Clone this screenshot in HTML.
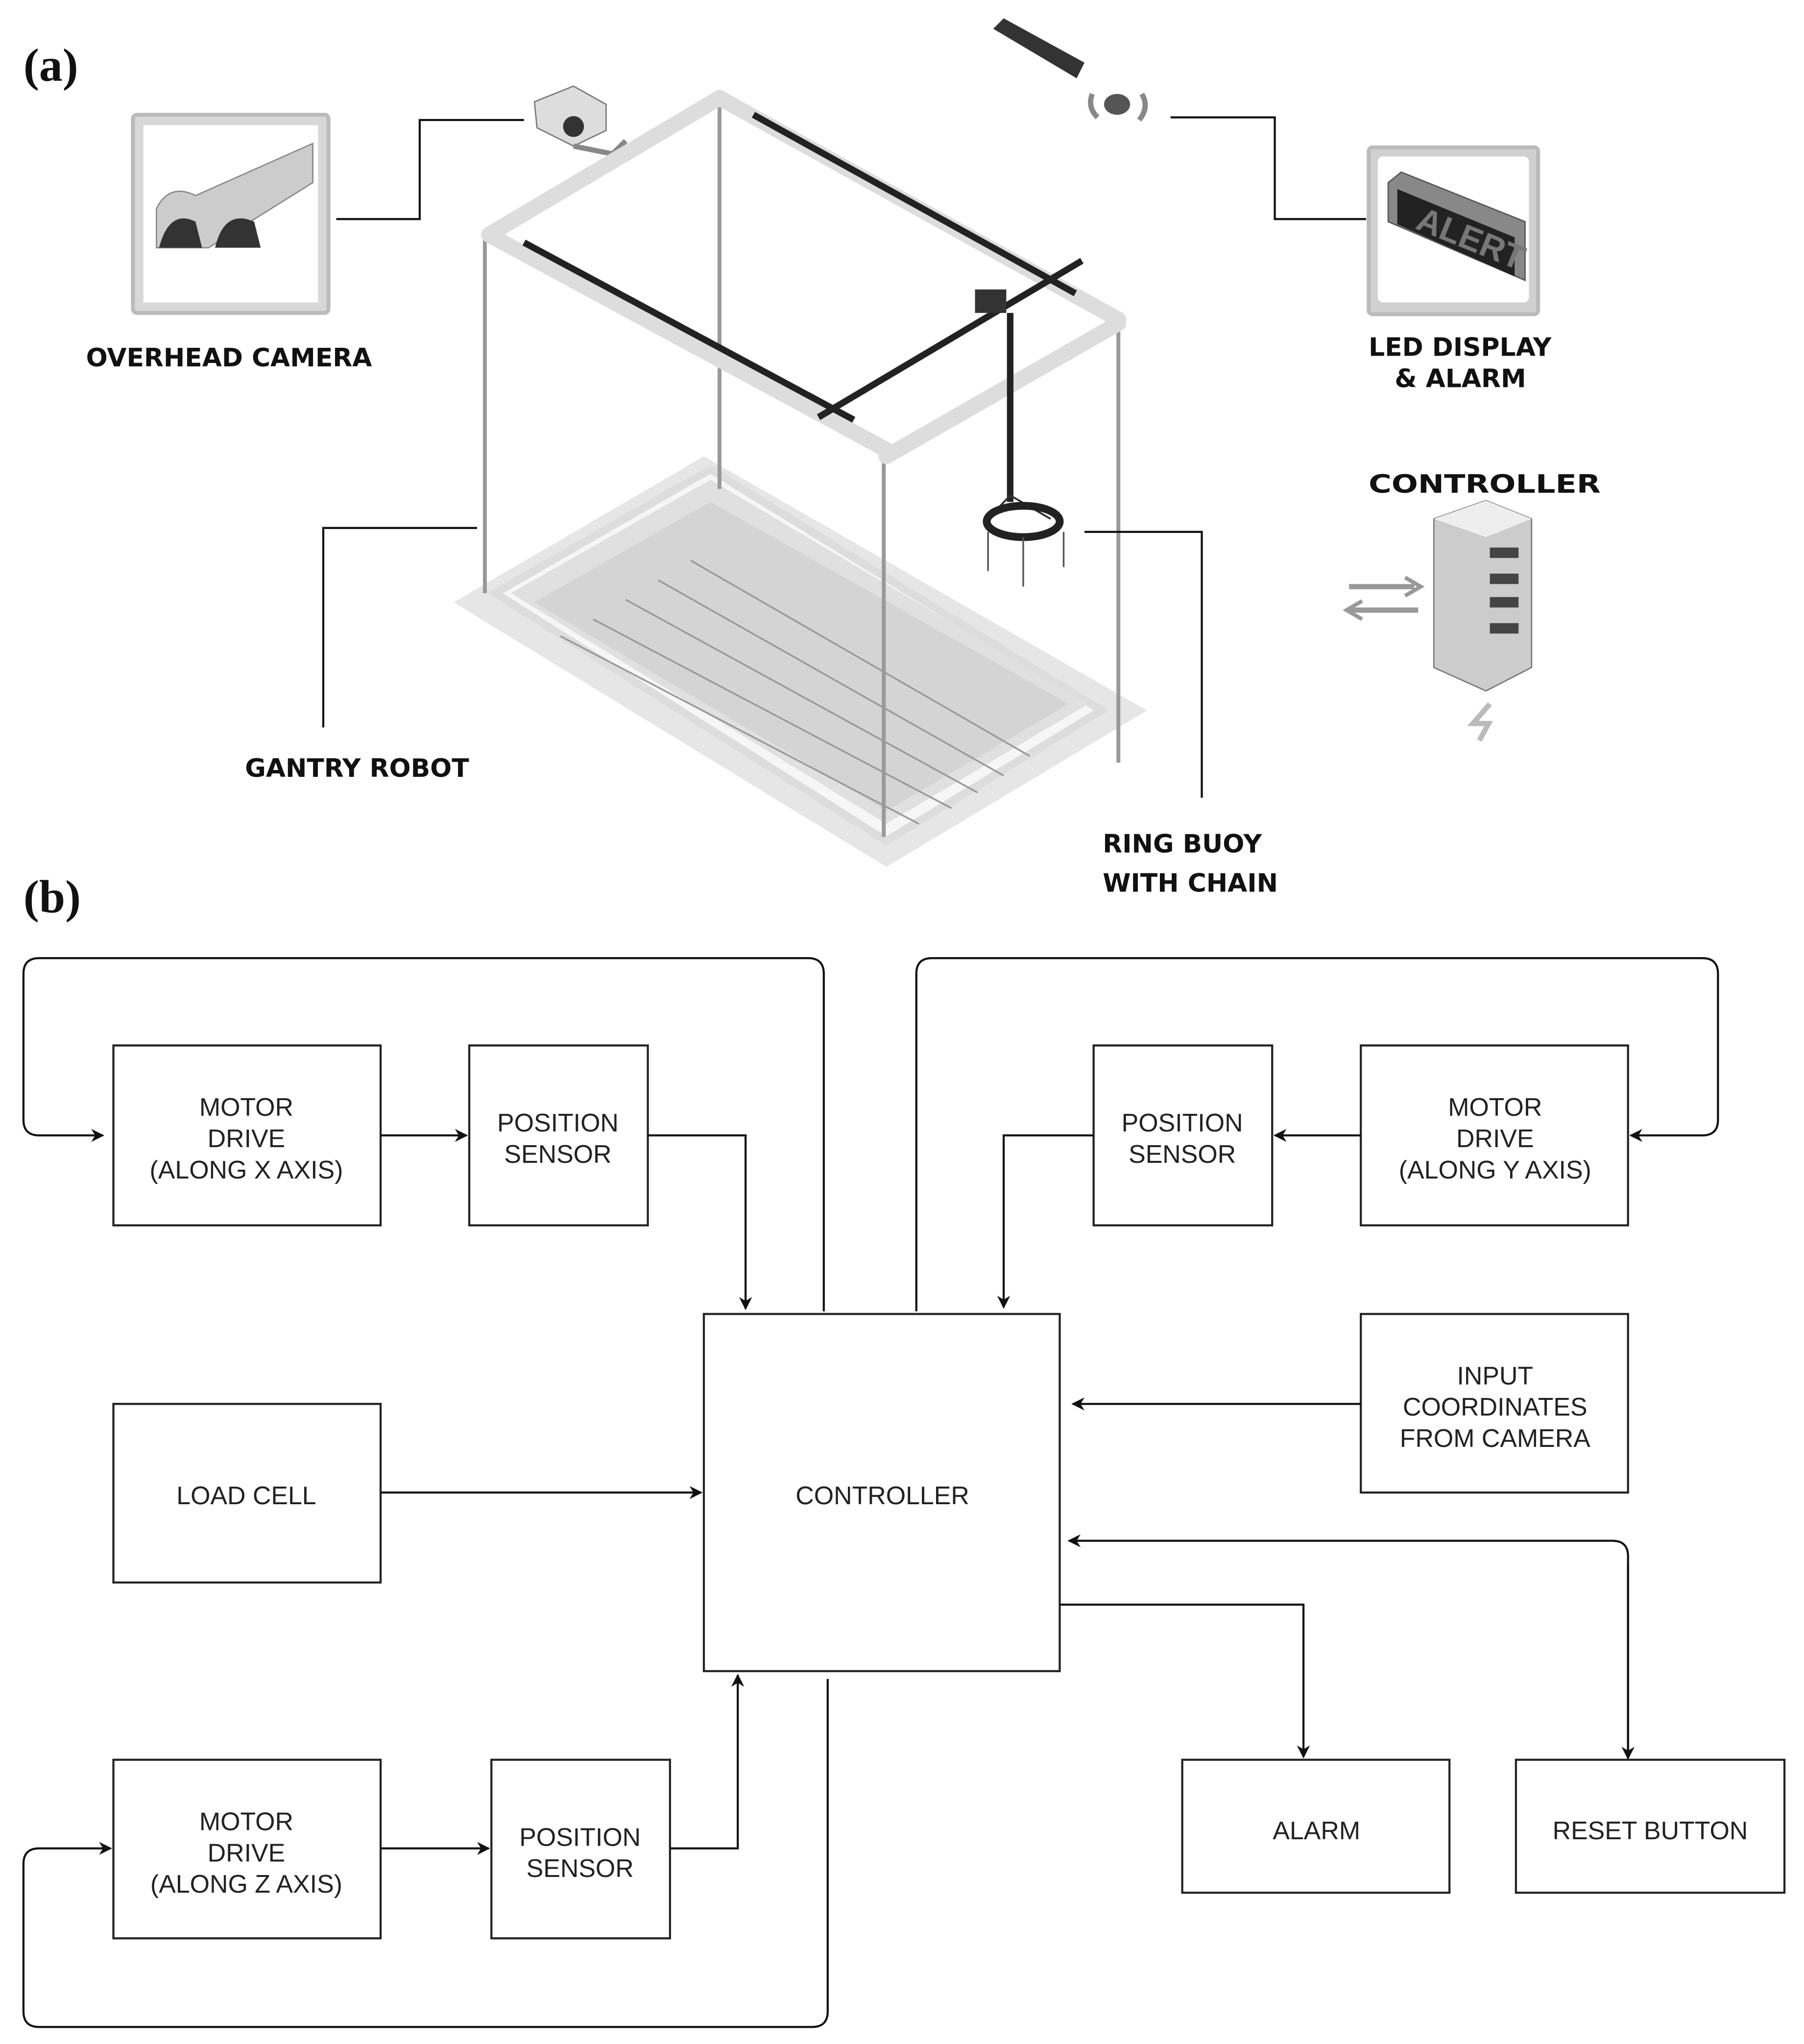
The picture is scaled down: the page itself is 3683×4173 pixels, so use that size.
<!DOCTYPE html>
<html><head><meta charset="utf-8"><style>
html,body{margin:0;padding:0;background:#fff}
svg{display:block}
.l{font-family:"DejaVu Sans","Liberation Sans",sans-serif;font-weight:bold;font-size:19.5px;fill:#111}
.t{font-family:"Liberation Sans",sans-serif;font-size:19.5px;fill:#222;text-anchor:middle}
.b{fill:#fff;stroke:#222;stroke-width:1.6}
.c{fill:none;stroke:#111;stroke-width:1.6}
</style></head><body>
<svg width="3683" height="4173" viewBox="0 0 1384 1568" xmlns="http://www.w3.org/2000/svg">
<defs><marker id="a" markerWidth="10" markerHeight="10" refX="9" refY="5" orient="auto" markerUnits="userSpaceOnUse"><path d="M0,0 L10,5 L0,10 L3,5z" fill="#111"/></marker></defs>
<rect width="1384" height="1568" fill="#fff"/>
<text x="18" y="62" font-family="Liberation Serif,serif" font-weight="bold" font-size="36" fill="#111">(a)</text>
<text x="18" y="700" font-family="Liberation Serif,serif" font-weight="bold" font-size="36" fill="#111">(b)</text>

<rect x="102" y="88" width="150" height="152" fill="#d8d8d8" stroke="#bbb" stroke-width="3" rx="3"/>
<rect x="110" y="96" width="134" height="136" fill="#fff"/>
<path d="M120,190 L120,160 Q130,140 150,150 L240,110 L240,140 L160,190z" fill="#ccc" stroke="#888"/>
<path d="M122,190 Q130,160 150,170 L155,190z M165,190 Q172,160 195,170 L200,190z" fill="#333"/>
<text class="l" x="66" y="281">OVERHEAD CAMERA</text>
<polyline class="c" points="258,168 322,168 322,92 402,92"/>
<path d="M410,78 L440,66 L465,80 L465,100 L440,112 L412,98z" fill="#ddd" stroke="#777"/>
<circle cx="440" cy="97" r="8" fill="#333"/>
<path d="M440,112 L470,118 L480,108" fill="none" stroke="#888" stroke-width="4"/>

<path d="M762,22 L770,14 L832,48 L826,60z" fill="#333"/>
<ellipse cx="857" cy="80" rx="10" ry="8" fill="#555"/>
<path d="M838,72 Q834,82 842,90 M876,72 Q882,82 874,92" fill="none" stroke="#888" stroke-width="4"/>
<polyline class="c" points="898,90 978,90 978,168 1048,168"/>
<rect x="1050" y="113" width="130" height="128" fill="#d0d0d0" stroke="#bbb" stroke-width="3" rx="3"/>
<rect x="1057" y="120" width="116" height="112" fill="#fff" rx="4"/>
<path d="M1065,140 L1075,132 L1170,170 L1170,215 L1065,170z" fill="#888" stroke="#555"/>
<path d="M1072,145 L1162,182 L1162,212 L1072,172z" fill="#222"/>
<text x="1085" y="175" font-family="Liberation Sans,sans-serif" font-weight="bold" font-size="26" fill="#777" transform="rotate(22 1085 175)">ALERT</text>
<text class="l" x="1050" y="273">LED DISPLAY</text>
<text class="l" x="1070" y="297">&amp; ALARM</text>
<text class="l" x="1050" y="378" font-size="25" textLength="178" lengthAdjust="spacingAndGlyphs">CONTROLLER</text>
<path d="M1100,398 L1140,384 L1175,398 L1175,512 L1140,530 L1100,512z" fill="#ccc" stroke="#777"/>
<path d="M1100,398 L1140,384 L1175,398 L1140,412z" fill="#eee"/>
<g fill="#444"><rect x="1143" y="420" width="22" height="8"/><rect x="1143" y="440" width="22" height="8"/><rect x="1143" y="458" width="22" height="8"/><rect x="1143" y="478" width="22" height="8"/></g>
<path d="M1035,450 L1085,450 M1035,468 L1088,468" stroke="#999" stroke-width="4"/>
<path d="M1078,443 L1090,450 L1078,457 M1045,461 L1033,468 L1045,475" fill="none" stroke="#999" stroke-width="3"/>
<path d="M1143,540 L1130,555 L1142,555 L1135,568" fill="none" stroke="#bbb" stroke-width="4"/>

<polygon points="348,462 540,350 880,545 680,665" fill="#e6e6e6"/>
<polygon points="380,455 545,360 845,545 680,645" fill="#f6f6f6" stroke="#ddd" stroke-width="6"/>
<polygon points="392,455 545,368 835,540 680,632" fill="#e0e0e0"/>
<polygon points="410,462 545,385 820,540 680,622" fill="#d4d4d4"/>
<g stroke="#999" stroke-width="1.3">
<line x1="530" y1="430" x2="790" y2="580"/><line x1="505" y1="445" x2="770" y2="595"/><line x1="480" y1="460" x2="750" y2="608"/><line x1="455" y1="475" x2="730" y2="620"/><line x1="430" y1="488" x2="705" y2="632"/></g>
<g stroke="#999" stroke-width="3"><line x1="372" y1="182" x2="372" y2="455"/><line x1="552" y1="82" x2="552" y2="375"/><line x1="678" y1="350" x2="678" y2="642"/><line x1="858" y1="246" x2="858" y2="585"/></g>
<g stroke="#ddd" stroke-width="12" stroke-linecap="round">
<line x1="375" y1="180" x2="552" y2="75"/><line x1="680" y1="350" x2="858" y2="248"/>
<line x1="375" y1="180" x2="680" y2="345"/><line x1="552" y1="75" x2="858" y2="245"/></g>
<g stroke="#222" stroke-width="5">
<line x1="402" y1="186" x2="655" y2="322"/><line x1="578" y1="88" x2="825" y2="225"/>
<line x1="628" y1="320" x2="830" y2="200"/></g>
<rect x="748" y="222" width="24" height="18" fill="#333"/>
<line x1="775" y1="240" x2="775" y2="385" stroke="#222" stroke-width="5"/>
<path d="M775,380 L758,398 M775,380 L806,398" stroke="#333" stroke-width="1.5"/>
<ellipse cx="785" cy="400" rx="28" ry="12" fill="none" stroke="#222" stroke-width="6"/>
<g stroke="#555" stroke-width="1.3"><line x1="758" y1="408" x2="758" y2="438"/><line x1="785" y1="412" x2="785" y2="450"/><line x1="816" y1="408" x2="816" y2="435"/></g>
<polyline class="c" points="366,405 248,405 248,558"/>
<text class="l" x="188" y="596">GANTRY ROBOT</text>
<polyline class="c" points="832,408 922,408 922,612"/>
<text class="l" x="846" y="654">RING BUOY</text>
<text class="l" x="846" y="684">WITH CHAIN</text>

<rect class="b" x="87" y="802" width="205" height="138"/>
<text class="t" x="189" y="856">MOTOR</text><text class="t" x="189" y="880">DRIVE</text><text class="t" x="189" y="904">(ALONG X AXIS)</text>
<rect class="b" x="360" y="802" width="137" height="138"/>
<text class="t" x="428" y="868">POSITION</text><text class="t" x="428" y="892">SENSOR</text>
<rect class="b" x="540" y="1008" width="273" height="274"/>
<text class="t" x="677" y="1154">CONTROLLER</text>
<rect class="b" x="839" y="802" width="137" height="138"/>
<text class="t" x="907" y="868">POSITION</text><text class="t" x="907" y="892">SENSOR</text>
<rect class="b" x="1044" y="802" width="205" height="138"/>
<text class="t" x="1147" y="856">MOTOR</text><text class="t" x="1147" y="880">DRIVE</text><text class="t" x="1147" y="904">(ALONG Y AXIS)</text>
<rect class="b" x="1044" y="1008" width="205" height="137"/>
<text class="t" x="1147" y="1062">INPUT</text><text class="t" x="1147" y="1086">COORDINATES</text><text class="t" x="1147" y="1110">FROM CAMERA</text>
<rect class="b" x="87" y="1077" width="205" height="137"/>
<text class="t" x="189" y="1154">LOAD CELL</text>
<rect class="b" x="87" y="1350" width="205" height="137"/>
<text class="t" x="189" y="1404">MOTOR</text><text class="t" x="189" y="1428">DRIVE</text><text class="t" x="189" y="1452">(ALONG Z AXIS)</text>
<rect class="b" x="377" y="1350" width="137" height="137"/>
<text class="t" x="445" y="1416">POSITION</text><text class="t" x="445" y="1440">SENSOR</text>
<rect class="b" x="907" y="1350" width="205" height="102"/>
<text class="t" x="1010" y="1411">ALARM</text>
<rect class="b" x="1163" y="1350" width="206" height="102"/>
<text class="t" x="1266" y="1411">RESET BUTTON</text>

<path class="c" d="M632,1006 L632,747 Q632,735 620,735 L30,735 Q18,735 18,747 L18,859 Q18,871 30,871 L79,871" marker-end="url(#a)"/>
<path class="c" d="M292,871 L358,871" marker-end="url(#a)"/>
<path class="c" d="M497,871 L572,871 L572,1004" marker-end="url(#a)"/>
<path class="c" d="M703,1006 L703,747 Q703,735 715,735 L1306,735 Q1318,735 1318,747 L1318,859 Q1318,871 1306,871 L1251,871" marker-end="url(#a)"/>
<path class="c" d="M1044,871 L978,871" marker-end="url(#a)"/>
<path class="c" d="M839,871 L770,871 L770,1003" marker-end="url(#a)"/>
<path class="c" d="M1044,1077 L823,1077" marker-end="url(#a)"/>
<path class="c" d="M292,1145 L538,1145" marker-end="url(#a)"/>
<path class="c" d="M1249,1348 L1249,1194 Q1249,1182 1237,1182 L820,1182" marker-end="url(#a)"/>
<path class="c" d="M1249,1200 L1249,1349" marker-end="url(#a)"/>
<path class="c" d="M813,1231 L1000,1231 L1000,1348" marker-end="url(#a)"/>
<path class="c" d="M514,1418 L566,1418 L566,1285" marker-end="url(#a)"/>
<path class="c" d="M292,1418 L375,1418" marker-end="url(#a)"/>
<path class="c" d="M635,1288 L635,1543 Q635,1555 623,1555 L30,1555 Q18,1555 18,1543 L18,1430 Q18,1418 30,1418 L85,1418" marker-end="url(#a)"/>
</svg>
</body></html>
